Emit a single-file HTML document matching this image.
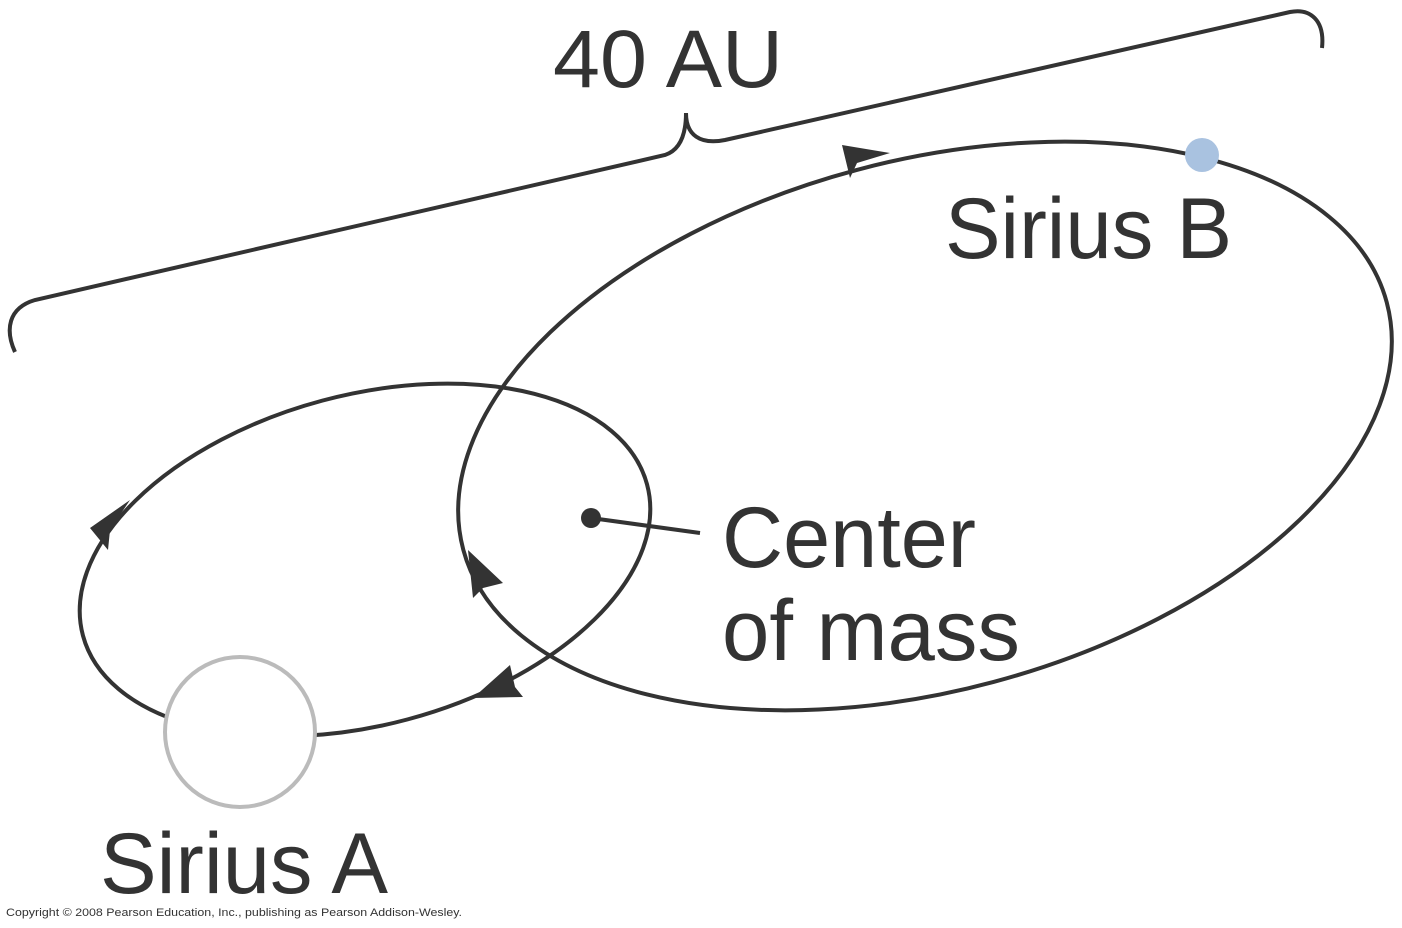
<!DOCTYPE html>
<html><head><meta charset="utf-8"><style>html,body{margin:0;padding:0;background:#fff}svg{display:block}</style></head>
<body>
<svg width="1402" height="928" viewBox="0 0 1402 928" xmlns="http://www.w3.org/2000/svg">
<g fill="none" stroke="#333" stroke-width="4">
<path d="M15,352 C5,330 8,308 35,300 L665,155 C680,150 686,135 686,113 C686,135 700,145 725,140 L1290,12 C1310,8 1325,20 1322,48"/>
<ellipse cx="365" cy="560" rx="292" ry="165" transform="rotate(-15 365 560)"/>
<ellipse cx="925" cy="426" rx="478" ry="265" transform="rotate(-15 925 426)"/>
<line x1="591" y1="518" x2="700" y2="533"/>
</g>
<circle cx="240" cy="732" r="75" fill="#fff" stroke="#bbb" stroke-width="4"/>
<circle cx="1202" cy="155" r="17" fill="#a9c2e0"/>
<circle cx="591" cy="518" r="10" fill="#333"/>
<g fill="#333">
<polygon points="890,153 842,145 850,178 857,163"/>
<polygon points="130,500 90,528 108,550 110,530"/>
<polygon points="468,550 473,598 483,588 503,583"/>
<polygon points="473,698 523,697 515,687 510,665"/>
</g>
<g font-family="Liberation Sans, sans-serif" fill="#333">
<text x="553" y="87" font-size="82" textLength="230" lengthAdjust="spacingAndGlyphs">40 AU</text>
<text x="945" y="258" font-size="86" textLength="287" lengthAdjust="spacingAndGlyphs">Sirius B</text>
<text x="722" y="567" font-size="86" textLength="254" lengthAdjust="spacingAndGlyphs">Center</text>
<text x="722" y="660" font-size="86" textLength="298" lengthAdjust="spacingAndGlyphs">of mass</text>
<text x="100" y="893" font-size="86" textLength="288" lengthAdjust="spacingAndGlyphs">Sirius A</text>
<text x="6" y="916" font-size="11" textLength="456" lengthAdjust="spacingAndGlyphs">Copyright © 2008 Pearson Education, Inc., publishing as Pearson Addison-Wesley.</text>
</g>
</svg>
</body></html>
